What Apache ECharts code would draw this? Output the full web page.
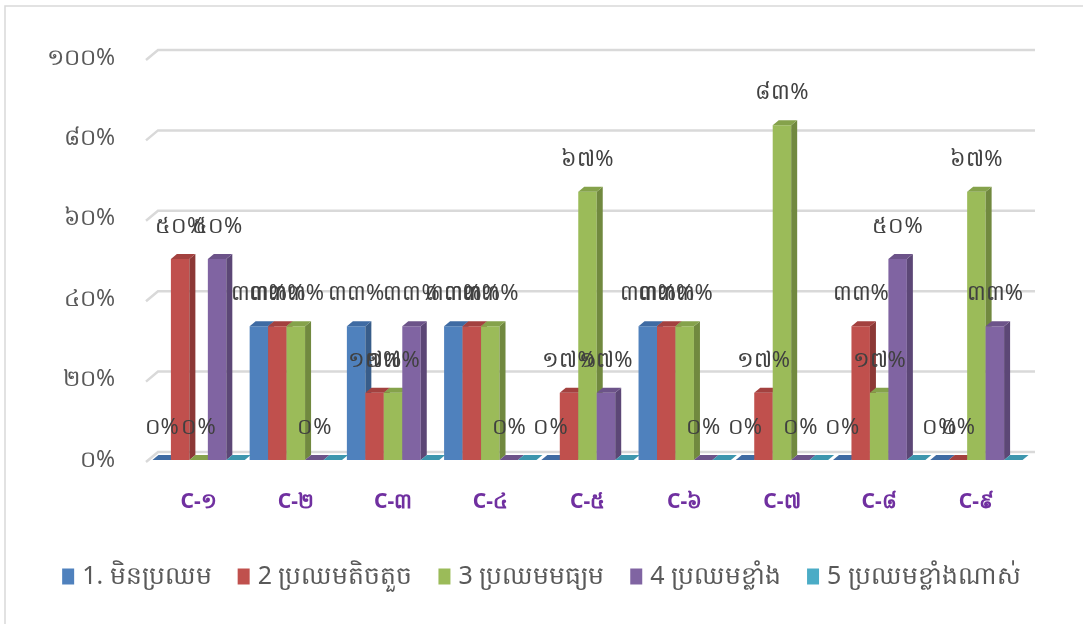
<!DOCTYPE html>
<html>
<head>
<meta charset="utf-8">
<script src="https://cdn.jsdelivr.net/npm/echarts@6/dist/echarts.min.js"></script>
<style>
  html, body { margin: 0; padding: 0; background: #fff; }
</style>
</head>
<body>
<div id="main" style="width: 1083px; height: 624px"></div>
<script>
// categories and series (percent values)
var categories = ['C-១', 'C-២', 'C-៣', 'C-៤', 'C-៥', 'C-៦', 'C-៧', 'C-៨', 'C-៩'];
var seriesNames = ['1. មិនប្រឈម', '2 ប្រឈមតិចតួច', '3 ប្រឈមមធ្យម', '4 ប្រឈមខ្លាំង', '5 ប្រឈមខ្លាំងណាស់'];
var notAtRisk = [0, 33.3, 33.3, 33.3, 0, 33.3, 0, 0, 0];
var lowRisk = [50, 33.3, 16.7, 33.3, 16.7, 33.3, 16.7, 33.3, 0];
var midRisk = [0, 33.3, 16.7, 33.3, 66.7, 33.3, 83.3, 16.7, 66.7];
var highRisk = [50, 0, 33.3, 0, 16.7, 0, 0, 50, 33.3];
var veryHighRisk = [0, 0, 0, 0, 0, 0, 0, 0, 0];
var yTicks = [0, 20, 40, 60, 80, 100];

var fronts = ['#4F81BD', '#C0504D', '#9BBB59', '#8064A2', '#4BACC6'];
var sides = ['#385D8A', '#8C3836', '#71893F', '#5C4776', '#357D91'];
var tops = ['#3F6BA3', '#A3413F', '#85A24B', '#6C5389', '#3D96AE'];
var showLabel = [true, true, true, true, false];

var khDigits = '០១២៣៤៥៦៧៨៩';
function kh(n) {
  return String(n).replace(/[0-9]/g, function (d) { return khDigits[+d]; });
}

var FONT = 'Noto Sans, DejaVu Sans, sans-serif';
var DX = 6, DY = 5; // bar depth

function barRenderer(s) {
  return function (params, api) {
    var i = api.value(0), v = api.value(1);
    var bandW = api.size([1, 0])[0];
    var groupW = bandW * 0.95;
    var w = groupW / 5;
    var base = api.coord([i, 0]);
    var top = api.coord([i, v]);
    var x = base[0] - groupW / 2 + s * w;
    var yb = base[1], yt = top[1];
    var children = [
      { type: 'rect', shape: { x: x, y: yt, width: w, height: yb - yt }, style: { fill: fronts[s] } },
      { type: 'polygon', shape: { points: [[x + w, yt], [x + w + DX, yt - DY], [x + w + DX, yb - DY], [x + w, yb]] }, style: { fill: sides[s] } },
      { type: 'polygon', shape: { points: [[x, yt], [x + DX, yt - DY], [x + w + DX, yt - DY], [x + w, yt]] }, style: { fill: tops[s] } }
    ];
    if (showLabel[s]) {
      children.push({ type: 'text', z2: 100, style: { text: kh(Math.round(v)) + '%', x: x + w / 2, y: yt - 32, align: 'center', verticalAlign: 'middle', fill: '#404040', fontSize: 22, fontFamily: FONT } });
    }
    return { type: 'group', children: children };
  };
}

function gridRenderer(params, api) {
  var cs = params.coordSys;
  var y = api.coord([0, api.value(1)])[1];
  return {
    type: 'polyline',
    shape: { points: [[cs.x - 4, y + 2], [cs.x + 8, y - 8], [cs.x + cs.width + 10, y - 8]] },
    style: { stroke: '#d9d9d9', lineWidth: 2.5, fill: null }
  };
}

var values = [notAtRisk, lowRisk, midRisk, highRisk, veryHighRisk];
var series = [{
  type: 'custom',
  silent: true,
  z: 1,
  renderItem: gridRenderer,
  data: yTicks.map(function (t) { return [0, t]; })
}];
values.forEach(function (arr, s) {
  series.push({
    name: seriesNames[s],
    type: 'custom',
    z: 2,
    itemStyle: { color: fronts[s] },
    renderItem: barRenderer(s),
    data: arr.map(function (v, i) { return [i, v]; })
  });
});

var option = {
  animation: false,
  graphic: [{
    type: 'rect',
    shape: { x: 5, y: 6, width: 1090, height: 640 },
    style: { fill: null, stroke: '#d9d9d9', lineWidth: 1.5 }
  }],
  legend: {
    data: seriesNames,
    bottom: 30,
    left: 'center',
    icon: 'rect',
    itemWidth: 12,
    itemHeight: 16,
    itemGap: 26,
    textStyle: { color: '#595959', fontSize: 25, fontFamily: FONT, padding: [0, 0, 0, 3] }
  },
  grid: { left: 150, right: 58, top: 58, bottom: 164 },
  xAxis: {
    type: 'category',
    data: categories,
    axisLine: { show: false },
    axisTick: { show: false },
    axisLabel: { color: '#7030A0', fontSize: 21, fontWeight: 'bold', margin: 32, fontFamily: FONT }
  },
  yAxis: {
    type: 'value',
    min: 0,
    max: 100,
    interval: 20,
    splitLine: { show: false },
    axisLabel: {
      color: '#595959', fontSize: 23, margin: 35,
      fontFamily: FONT,
      formatter: function (v) { return kh(v) + '%'; }
    }
  },
  series: series
};

var myChart = echarts.init(document.getElementById('main'));
myChart.setOption(option);
</script>
</body>
</html>
